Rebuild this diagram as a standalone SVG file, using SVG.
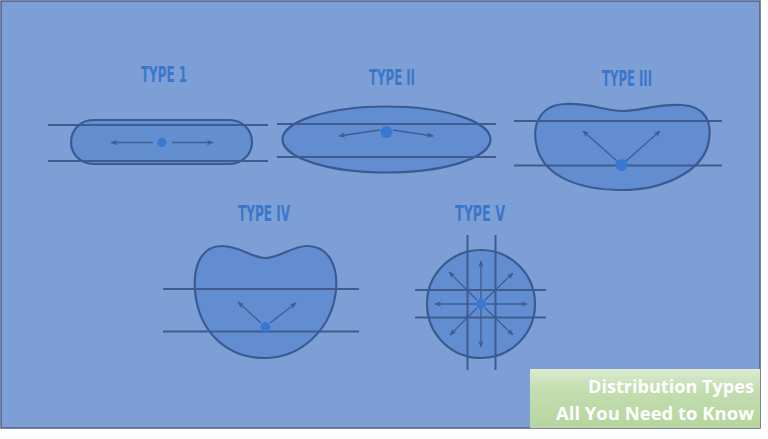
<svg xmlns="http://www.w3.org/2000/svg" width="768" height="439" viewBox="0 0 768 439">
<defs>
<linearGradient id="gb" x1="0" y1="0" x2="0" y2="1">
<stop offset="0" stop-color="#dcebd0"/>
<stop offset="0.35" stop-color="#c3ddb0"/>
<stop offset="1" stop-color="#b7d59f"/>
</linearGradient>
<marker id="ah" viewBox="0 0 10 10" refX="9" refY="5" markerWidth="7" markerHeight="7" markerUnits="userSpaceOnUse" orient="auto">
<path d="M0,1 L10,5 L0,9 L3,5 Z" fill="#3d5d96"/>
</marker>
</defs>
<style>
.title{font-family:"DejaVu Sans Condensed","DejaVu Sans",sans-serif;font-weight:bold;font-size:21px;fill:#3a77c9;text-anchor:middle}
.shape{fill:#5d8bd0;stroke:#3c5a92;stroke-width:2.2}
.ln{stroke:#3f5b8f;stroke-width:2;fill:none}
.ar{stroke:#3d5d96;stroke-width:1.3;fill:none;marker-end:url(#ah)}
.dot{fill:#3778d4}
.cap{font-family:"Open Sans","Liberation Sans",sans-serif;font-weight:bold;font-size:17.5px;fill:#ffffff;text-anchor:end}
</style>
<rect x="0" y="0" width="768" height="439" fill="#ffffff"/>
<rect x="1" y="1" width="759" height="427" fill="#7e9fd5" stroke="#4f5f7e" stroke-width="1.5"/>

<g id="type1">
<text class="title" x="164" y="82" textLength="46" lengthAdjust="spacingAndGlyphs">TYPE 1</text>
<rect class="shape" x="71" y="120" width="181" height="44" rx="22" fill-opacity="0.8"/>
<line class="ln" x1="48" y1="125" x2="268" y2="125"/>
<line class="ln" x1="48" y1="161" x2="268" y2="161"/>
<line class="ar" x1="153" y1="142.5" x2="111" y2="142.5"/>
<line class="ar" x1="172" y1="142.5" x2="213" y2="142.5"/>
<circle class="dot" cx="162" cy="142.5" r="4.5"/>
</g>

<g id="type2">
<text class="title" x="392" y="85" textLength="46" lengthAdjust="spacingAndGlyphs">TYPE II</text>
<ellipse class="shape" cx="386.5" cy="139.5" rx="104" ry="33" fill-opacity="0.85"/>
<line class="ln" x1="277" y1="124" x2="496" y2="124"/>
<line class="ln" x1="277" y1="157" x2="496" y2="157"/>
<line class="ar" x1="380" y1="130" x2="339" y2="136"/>
<line class="ar" x1="393" y1="130" x2="433" y2="136"/>
<circle class="dot" cx="386.5" cy="132" r="6"/>
</g>

<g id="type3">
<text class="title" x="627" y="86" textLength="50" lengthAdjust="spacingAndGlyphs">TYPE III</text>
<path class="shape" fill-opacity="0.85" d="M565 104 C592 103 605 111 622 111 C640 111 655 104 682 105 C705 106 712 122 709 140 C705 170 665 190 622 190 C580 190 545 177 537 148 C531 125 540 105 565 104 Z"/>
<line class="ln" x1="514" y1="121" x2="722" y2="121"/>
<line class="ln" x1="514" y1="165.5" x2="722" y2="165.5"/>
<line class="ar" x1="617" y1="161" x2="583" y2="131"/>
<line class="ar" x1="626" y1="161" x2="660" y2="131"/>
<circle class="dot" cx="621.5" cy="165" r="6"/>
</g>

<g id="type4">
<text class="title" x="264" y="221" textLength="52" lengthAdjust="spacingAndGlyphs">TYPE IV</text>
<path class="shape" fill-opacity="0.85" d="M222 246 C240 246 252 258 265 258 C280 258 292 246 307 246 C330 246 338 268 336 290 C332 330 300 358 265 358 C225 358 198 330 195 290 C193 265 202 246 222 246 Z"/>
<line class="ln" x1="163" y1="289" x2="359" y2="289"/>
<line class="ln" x1="163" y1="331.5" x2="359" y2="331.5"/>
<line class="ar" x1="261" y1="323" x2="238" y2="302"/>
<line class="ar" x1="270" y1="323" x2="296" y2="303"/>
<circle class="dot" cx="265.5" cy="327" r="5"/>
</g>

<g id="type5">
<text class="title" x="480" y="221" textLength="50" lengthAdjust="spacingAndGlyphs">TYPE V</text>
<circle class="shape" cx="481" cy="304" r="54" fill-opacity="0.85"/>
<line class="ln" x1="415" y1="290" x2="546" y2="290"/>
<line class="ln" x1="415" y1="317.5" x2="546" y2="317.5"/>
<line class="ln" x1="467.5" y1="235" x2="467.5" y2="370"/>
<line class="ln" x1="495.5" y1="235" x2="495.5" y2="370"/>
<line class="ar" x1="481" y1="299" x2="481" y2="261"/>
<line class="ar" x1="481" y1="309" x2="481" y2="347"/>
<line class="ar" x1="476" y1="304" x2="435" y2="304"/>
<line class="ar" x1="486" y1="304" x2="527" y2="304"/>
<line class="ar" x1="477" y1="300" x2="449" y2="272"/>
<line class="ar" x1="485" y1="300" x2="513" y2="273"/>
<line class="ar" x1="477" y1="308" x2="450" y2="335"/>
<line class="ar" x1="485" y1="308" x2="513" y2="335"/>
<circle class="dot" cx="481" cy="304" r="5"/>
</g>

<g id="caption">
<rect x="530" y="369" width="230" height="59" fill="url(#gb)"/>
<text class="cap" x="754" y="393" textLength="166" lengthAdjust="spacingAndGlyphs">Distribution Types</text>
<text class="cap" x="754" y="420" textLength="198" lengthAdjust="spacingAndGlyphs">All You Need to Know</text>
</g>
</svg>
